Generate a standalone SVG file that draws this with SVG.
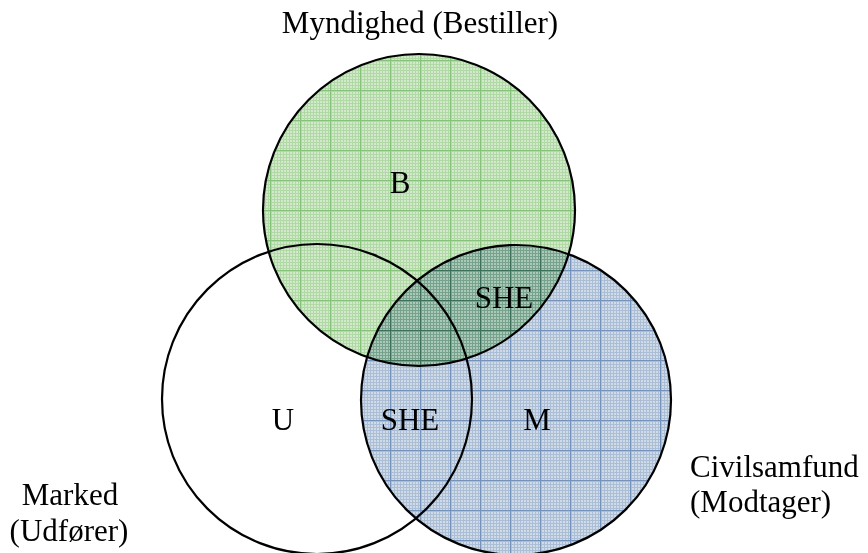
<svg xmlns="http://www.w3.org/2000/svg" width="868" height="553" viewBox="0 0 868 553">
<style>
text{font-family:"Liberation Serif","Times New Roman",serif;font-size:31px;fill:#000}
.c{stroke:#000;stroke-width:2.2}
</style>
<defs>
<pattern id="pg" width="30" height="30" patternUnits="userSpaceOnUse">
<rect width="30" height="30" fill="#d2eacb"/>
<path d="M1.5 0V30M4.5 0V30M7.5 0V30M10.5 0V30M13.5 0V30M16.5 0V30M19.5 0V30M22.5 0V30M25.5 0V30M28.5 0V30M0 1.5H30M0 4.5H30M0 7.5H30M0 10.5H30M0 13.5H30M0 16.5H30M0 19.5H30M0 22.5H30M0 25.5H30M0 28.5H30" stroke="#b0d9a6" stroke-width="1"/>
<path d="M0.5 0V30M0 0.5H30" stroke="#86c27c" stroke-width="1"/>
</pattern>
<pattern id="pb" width="30" height="30" patternUnits="userSpaceOnUse">
<rect width="30" height="30" fill="#d0dbe8"/>
<path d="M1.5 0V30M4.5 0V30M7.5 0V30M10.5 0V30M13.5 0V30M16.5 0V30M19.5 0V30M22.5 0V30M25.5 0V30M28.5 0V30M0 1.5H30M0 4.5H30M0 7.5H30M0 10.5H30M0 13.5H30M0 16.5H30M0 19.5H30M0 22.5H30M0 25.5H30M0 28.5H30" stroke="#acbed5" stroke-width="1"/>
<path d="M0.5 0V30M0 0.5H30" stroke="#7592bb" stroke-width="1"/>
</pattern>
</defs>
<rect width="868" height="553" fill="#fff"/>
<g id="myndighed">
<circle cx="419" cy="210" r="156" fill="url(#pg)" class="c"/>
</g>
<g id="civilsamfund">
<circle cx="516" cy="400" r="155" fill="url(#pb)" class="c" style="mix-blend-mode:multiply"/>
</g>
<g id="marked">
<circle cx="317" cy="399" r="155" fill="none" class="c"/>
</g>
<g id="labels">
<text x="420" y="33" text-anchor="middle">Myndighed (Bestiller)</text>
<text x="400" y="193" text-anchor="middle">B</text>
<text x="504" y="308" text-anchor="middle">SHE</text>
<text x="410" y="430" text-anchor="middle">SHE</text>
<text x="283" y="430" text-anchor="middle">U</text>
<text x="537" y="430" text-anchor="middle">M</text>
<text x="690" y="477">Civilsamfund</text>
<text x="690" y="512">(Modtager)</text>
<text x="70" y="505" text-anchor="middle">Marked</text>
<text x="69" y="541" text-anchor="middle">(Udfører)</text>
</g>
<g id="connectors"/>
</svg>
